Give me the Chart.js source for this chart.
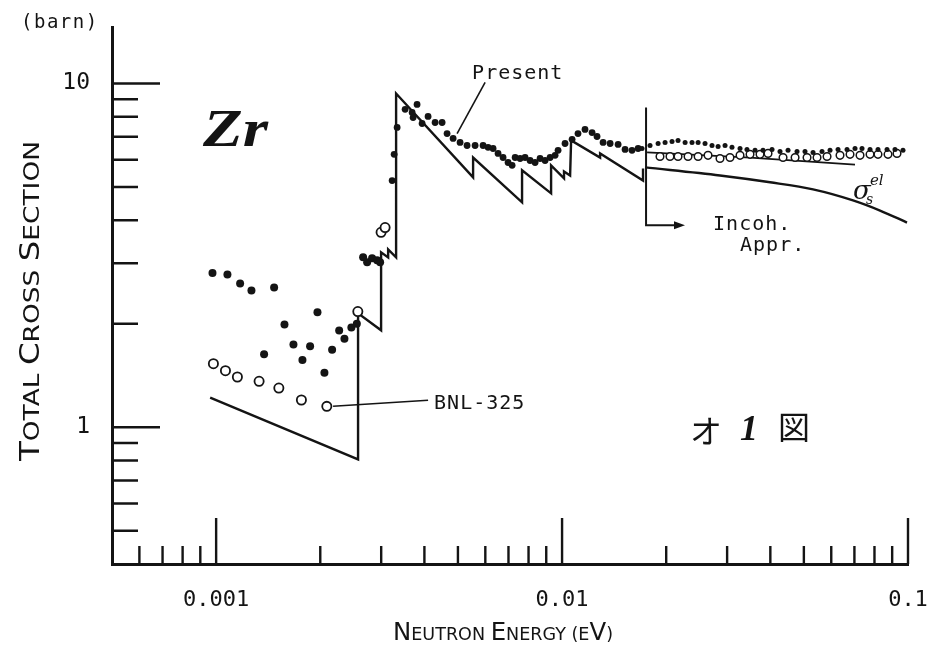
<!DOCTYPE html>
<html>
<head>
<meta charset="utf-8">
<title>Zr total cross section</title>
<script src="https://cdn.jsdelivr.net/npm/chart.js@4.4.1/dist/chart.umd.min.js"></script>
<style>
    html, body { margin: 0; padding: 0; background: #fff; }
    #zrChart { display: block; }
</style>
</head>
<body>
<canvas id="zrChart" width="939" height="663"></canvas>
<script>
// ===== DATA =====

// Present measurement (filled dots)
var presentEnergy = [
    0.000976, 0.001078, 0.001173, 0.001265, 0.001376, 0.001471, 0.001576, 0.001673, 0.001776,
    0.001869, 0.001963, 0.002056, 0.002164, 0.002268, 0.002349, 0.002460, 0.002551,
    0.002660, 0.002732, 0.002824, 0.002919, 0.002979,
    0.003227, 0.003270, 0.003336,
    0.003518, 0.003686, 0.003710, 0.003809, 0.003939, 0.004099, 0.004295, 0.004500, 0.004651,
    0.004842, 0.005072, 0.005313, 0.005605, 0.005911, 0.006110, 0.006318, 0.006531, 0.006752,
    0.006981, 0.007171, 0.007316, 0.007562, 0.007817, 0.008081, 0.008356, 0.008638, 0.008931,
    0.009234, 0.009546, 0.009737, 0.01020, 0.01069, 0.01112, 0.01165, 0.01221, 0.01262,
    0.01314, 0.01377, 0.01452, 0.01521, 0.01593, 0.01659,
    0.01703, 0.01796, 0.01895, 0.01985, 0.02079, 0.02164, 0.02268, 0.02375, 0.02473,
    0.02590, 0.02713, 0.02825, 0.02959, 0.03099, 0.03269, 0.03424, 0.03613, 0.03810,
    0.04045, 0.04266, 0.04500, 0.04777, 0.05038, 0.05315, 0.05642, 0.05951, 0.06277,
    0.06664, 0.07028, 0.07363, 0.07766, 0.08190, 0.08697, 0.09171, 0.09672
];
var presentXS = [
    2.81, 2.78, 2.62, 2.50, 1.63, 2.55, 1.99, 1.74, 1.57,
    1.72, 2.16, 1.44, 1.68, 1.91, 1.81, 1.95, 2.00,
    3.12, 3.02, 3.10, 3.06, 3.02,
    5.22, 6.22, 7.45,
    8.41, 8.24, 7.96, 8.69, 7.65, 8.02, 7.70, 7.70, 7.15,
    6.92, 6.74, 6.60, 6.60, 6.60, 6.52, 6.47, 6.26, 6.09,
    5.89, 5.78, 6.09, 6.05, 6.09, 5.97, 5.89, 6.05, 5.97,
    6.09, 6.18, 6.39, 6.69, 6.88, 7.15, 7.35, 7.20, 7.01,
    6.74, 6.69, 6.65, 6.43, 6.39, 6.47,
    6.47, 6.60, 6.69, 6.74, 6.78, 6.83, 6.74, 6.74, 6.74,
    6.69, 6.60, 6.56, 6.60, 6.52, 6.47, 6.43, 6.39, 6.39,
    6.43, 6.34, 6.39, 6.34, 6.34, 6.30, 6.34, 6.39, 6.43,
    6.43, 6.47, 6.47, 6.43, 6.43, 6.43, 6.43, 6.39
];

// BNL-325 (open circles)
var bnlEnergy = [
    0.000982, 0.001064, 0.001152, 0.001331, 0.001518, 0.001764, 0.002089,
    0.002568, 0.002998, 0.003079,
    0.01919, 0.02051, 0.02164, 0.02313, 0.02473, 0.02642, 0.02861, 0.03058,
    0.03269, 0.03494, 0.03734, 0.03939, 0.04353, 0.04716, 0.05107, 0.05458,
    0.05834, 0.06360, 0.06798, 0.07266, 0.07766, 0.08190, 0.08754, 0.09294
];
var bnlXS = [
    1.53, 1.46, 1.40, 1.36, 1.30, 1.20, 1.15,
    2.17, 3.69, 3.81,
    6.13, 6.13, 6.13, 6.13, 6.13, 6.18, 6.05, 6.09,
    6.18, 6.22, 6.22, 6.26, 6.09, 6.09, 6.09, 6.09,
    6.13, 6.18, 6.22, 6.18, 6.22, 6.22, 6.22, 6.26
];

// calculation with Bragg edges (sawtooth)
var coherentEnergy = [
    0.000961, 0.002572, 0.002572, 0.002998, 0.002998, 0.003142, 0.003142, 0.003313,
    0.003313, 0.005531, 0.005531, 0.007662, 0.007662, 0.009295, 0.009295, 0.01013,
    0.01013, 0.01055, 0.01062, 0.01288, 0.01288, 0.01714, 0.01714
];
var coherentXS = [
    1.22, 0.806, 2.145, 1.914, 3.226, 3.12, 3.29, 3.12,
    9.35, 5.33, 6.09, 4.51, 5.59, 4.79, 5.78, 5.30,
    5.55, 5.40, 6.83, 6.09, 6.26, 5.22, 5.66
];

// incoherent approximation (total)
var incohEnergy = [0.01761, 0.03494, 0.07027];
var incohXS = [6.30, 6.09, 5.81];

// elastic scattering sigma_s^el
var elasticEnergy = [0.01738, 0.02861, 0.03993, 0.05315, 0.06934, 0.08302, 0.09933];
var elasticXS = [5.70, 5.40, 5.16, 4.92, 4.57, 4.27, 3.94];

// axis ticks
var xMajorTicks = [0.001, 0.01, 0.1];
var xTickLabels = ['0.001', '0.01', '0.1'];
var xMinorTicks = [0.0006, 0.0007, 0.0008, 0.0009,
    0.002, 0.003, 0.004, 0.005, 0.006, 0.007, 0.008, 0.009,
    0.02, 0.03, 0.04, 0.05, 0.06, 0.07, 0.08, 0.09];
var yMajorTicks = [1, 10];
var yTickLabels = ['1', '10'];
var yMinorTicks = [0.5, 0.6, 0.7, 0.8, 0.9, 2, 3, 4, 5, 6, 7, 8, 9];

var INK = '#141414';
var MONO = '"DejaVu Sans Mono", "Liberation Mono", monospace';

function toPoints(xs, ys) {
    return xs.map(function(x, i) { return { x: x, y: ys[i] }; });
}

// keep the plot frame where the paper has it: no extra room for label overhang
function noLabelPadding(scale) {
    scale.paddingTop = 0;
    scale.paddingBottom = 0;
    scale.paddingLeft = 0;
    scale.paddingRight = 0;
}

// ===== SMALL CAPS TEXT (axis titles) =====
function smallCapsParts(text) {
    var parts = [];
    for (var i = 0; i < text.length; i++) {
        var ch = text[i];
        var big = ch !== ch.toLowerCase();
        var last = parts[parts.length - 1];
        if (last && last.big === big) last.s += ch.toUpperCase();
        else parts.push({ big: big, s: ch.toUpperCase() });
    }
    return parts;
}

function drawSmallCaps(ctx, text, bigSize, smallSize, length) {
    var parts = smallCapsParts(text);
    var family = '"DejaVu Sans", sans-serif';
    var total = 0;
    parts.forEach(function(p) {
        ctx.font = (p.big ? bigSize : smallSize) + 'px ' + family;
        p.w = ctx.measureText(p.s).width;
        total += p.w;
    });
    ctx.scale(length / total, 1);
    var x = -total / 2;
    ctx.textAlign = 'left';
    ctx.textBaseline = 'alphabetic';
    parts.forEach(function(p) {
        ctx.font = (p.big ? bigSize : smallSize) + 'px ' + family;
        ctx.fillText(p.s, x, 0);
        x += p.w;
    });
}

// ===== PAPER DECORATIONS: inner ticks, notes, pointers =====
var paperPlugin = {
    id: 'paper',
    beforeDatasetsDraw: function(chart) {
        var ctx = chart.ctx, a = chart.chartArea;
        var xs = chart.scales.x, ys = chart.scales.y;
        ctx.save();
        ctx.strokeStyle = INK;
        ctx.lineWidth = 2.4;
        ctx.beginPath();
        xMajorTicks.forEach(function(v) {
            var p = xs.getPixelForValue(v);
            ctx.moveTo(p, a.bottom); ctx.lineTo(p, a.bottom - 46);
        });
        xMinorTicks.forEach(function(v) {
            var p = xs.getPixelForValue(v);
            ctx.moveTo(p, a.bottom); ctx.lineTo(p, a.bottom - 18);
        });
        yMajorTicks.forEach(function(v) {
            var p = ys.getPixelForValue(v);
            ctx.moveTo(a.left, p); ctx.lineTo(a.left + 48, p);
        });
        yMinorTicks.forEach(function(v) {
            var p = ys.getPixelForValue(v);
            ctx.moveTo(a.left, p); ctx.lineTo(a.left + 26, p);
        });
        ctx.stroke();
        ctx.restore();
    },
    afterDatasetsDraw: function(chart) {
        var ctx = chart.ctx, a = chart.chartArea;
        var xs = chart.scales.x, ys = chart.scales.y;
        function P(e, s) { return [xs.getPixelForValue(e), ys.getPixelForValue(s)]; }

        ctx.save();
        ctx.fillStyle = INK;
        ctx.strokeStyle = INK;

        // pointer lines
        ctx.lineWidth = 1.6;
        var p1 = P(0.005992, 10.07), p2 = P(0.004972, 7.15);
        ctx.beginPath(); ctx.moveTo(p1[0], p1[1]); ctx.lineTo(p2[0], p2[1]); ctx.stroke();
        p1 = P(0.002178, 1.151); p2 = P(0.004099, 1.198);
        ctx.beginPath(); ctx.moveTo(p1[0], p1[1]); ctx.lineTo(p2[0], p2[1]); ctx.stroke();

        // Incoh. Appr. bracket with arrow
        ctx.lineWidth = 2;
        var t = P(0.01749, 8.52), b = P(0.01749, 3.87), r = P(0.02237, 3.87);
        ctx.beginPath();
        ctx.moveTo(t[0], t[1]); ctx.lineTo(b[0], b[1]); ctx.lineTo(r[0] - 6, r[1]);
        ctx.stroke();
        ctx.beginPath();
        ctx.moveTo(r[0] + 2, r[1]); ctx.lineTo(r[0] - 9, r[1] - 4); ctx.lineTo(r[0] - 9, r[1] + 4);
        ctx.closePath(); ctx.fill();

        // typed notes
        ctx.font = '20px ' + MONO;
        ctx.letterSpacing = '1px';
        ctx.textAlign = 'left';
        ctx.textBaseline = 'alphabetic';
        [['Present', 0.005495, 10.34], ['Incoh.', 0.02732, 3.76],
         ['Appr.', 0.03269, 3.25], ['BNL-325', 0.004266, 1.128]].forEach(function(n) {
            var p = P(n[1], n[2]);
            ctx.fillText(n[0], p[0], p[1]);
        });
        ctx.letterSpacing = '0px';

        // "Zr"
        var z = P(0.000917, 6.60);
        ctx.save();
        ctx.translate(z[0], z[1]);
        ctx.scale(1.25, 1);
        ctx.font = 'bold italic 52px "Liberation Serif", serif';
        ctx.fillText('Zr', 0, 0);
        ctx.restore();

        // sigma_s^el label
        var g = P(0.06934, 4.60);
        ctx.font = 'italic 26px "DejaVu Serif", serif';
        ctx.fillText('σ', g[0], g[1]);
        ctx.font = 'italic 14px "DejaVu Serif", serif';
        ctx.fillText('s', g[0] + 13, g[1] + 5);
        ctx.font = 'italic 15px "DejaVu Serif", serif';
        ctx.fillText('el', g[0] + 17, g[1] - 14);

        // figure number
        var f = P(0.02344, 0.898);
        ctx.font = '32px "Noto Sans CJK JP", sans-serif';
        ctx.fillText('オ', f[0], f[1]);
        ctx.font = 'bold italic 36px "Liberation Serif", serif';
        ctx.fillText('1', f[0] + 50, f[1] - 3);
        ctx.font = '32px "Noto Sans CJK JP", sans-serif';
        ctx.fillText('図', f[0] + 88, f[1] - 4);

        // unit
        ctx.font = '19px ' + MONO;
        ctx.letterSpacing = '1.5px';
        ctx.fillText('(barn)', a.left - 91, a.top + 1);
        ctx.letterSpacing = '0px';

        // axis titles
        ctx.save();
        ctx.translate(503, a.bottom + 76);
        drawSmallCaps(ctx, 'Neutron Energy (eV)', 25, 18, 220);
        ctx.restore();

        ctx.save();
        ctx.translate(a.left - 73, 301);
        ctx.rotate(-Math.PI / 2);
        drawSmallCaps(ctx, 'Total Cross Section', 27, 22, 320);
        ctx.restore();

        ctx.restore();
    }
};

// ===== CHART =====
function dotRadius(c) {
    var e = c.raw ? c.raw.x : 0;
    if (e < 0.0031) return 4;
    if (e < 0.017) return 3.4;
    return 2.5;
}

function initZrChart() {
    var ctx = document.getElementById('zrChart').getContext('2d');
    new Chart(ctx, {
        type: 'scatter',
        data: {
            datasets: [{
                label: 'Present',
                data: toPoints(presentEnergy, presentXS),
                pointRadius: dotRadius,
                pointBackgroundColor: INK,
                pointBorderWidth: 0,
                showLine: false
            }, {
                label: 'BNL-325',
                data: toPoints(bnlEnergy, bnlXS),
                pointRadius: function(c) { return c.raw && c.raw.x > 0.017 ? 3.8 : 4.6; },
                pointBackgroundColor: '#fff',
                pointBorderColor: INK,
                pointBorderWidth: function(c) { return c.raw && c.raw.x > 0.017 ? 1.5 : 1.8; },
                showLine: false
            }, {
                label: 'Coherent',
                data: toPoints(coherentEnergy, coherentXS),
                showLine: true,
                pointRadius: 0,
                borderColor: INK,
                borderWidth: 2.4,
                tension: 0
            }, {
                label: 'Incoh. Appr.',
                data: toPoints(incohEnergy, incohXS),
                showLine: true,
                pointRadius: 0,
                borderColor: INK,
                borderWidth: 1.8,
                tension: 0
            }, {
                label: 'sigma_s el',
                data: toPoints(elasticEnergy, elasticXS),
                showLine: true,
                pointRadius: 0,
                borderColor: INK,
                borderWidth: 2.4,
                cubicInterpolationMode: 'monotone'
            }]
        },
        options: {
            responsive: false,
            animation: false,
            devicePixelRatio: 1,
            layout: { padding: { left: 0, right: 31, top: 27, bottom: 0 } },
            plugins: {
                legend: { display: false },
                tooltip: { enabled: false }
            },
            scales: {
                x: {
                    type: 'logarithmic',
                    min: 0.0005,
                    max: 0.1,
                    grid: { display: false, drawTicks: false },
                    border: { display: true, color: INK, width: 3 },
                    afterBuildTicks: function(scale) {
                        scale.ticks = xMajorTicks.map(function(v) { return { value: v }; });
                    },
                    afterFit: function(scale) {
                        scale.height = 99;
                        noLabelPadding(scale);
                    },
                    ticks: {
                        autoSkip: false,
                        maxRotation: 0,
                        padding: 23,
                        color: INK,
                        font: { family: MONO, size: 22 },
                        callback: function(value, index) { return xTickLabels[index]; }
                    }
                },
                y: {
                    type: 'logarithmic',
                    min: 0.4,
                    max: 14.6,
                    grid: { display: false, drawTicks: false },
                    border: { display: true, color: INK, width: 3 },
                    afterBuildTicks: function(scale) {
                        scale.ticks = yMajorTicks.map(function(v) { return { value: v }; });
                    },
                    afterFit: function(scale) {
                        scale.width = 112;
                        noLabelPadding(scale);
                    },
                    ticks: {
                        autoSkip: false,
                        padding: 22,
                        color: INK,
                        font: { family: MONO, size: 23 },
                        callback: function(value, index) { return yTickLabels[index]; }
                    }
                }
            }
        },
        plugins: [paperPlugin]
    });
}

document.addEventListener('DOMContentLoaded', initZrChart);
</script>
</body>
</html>
